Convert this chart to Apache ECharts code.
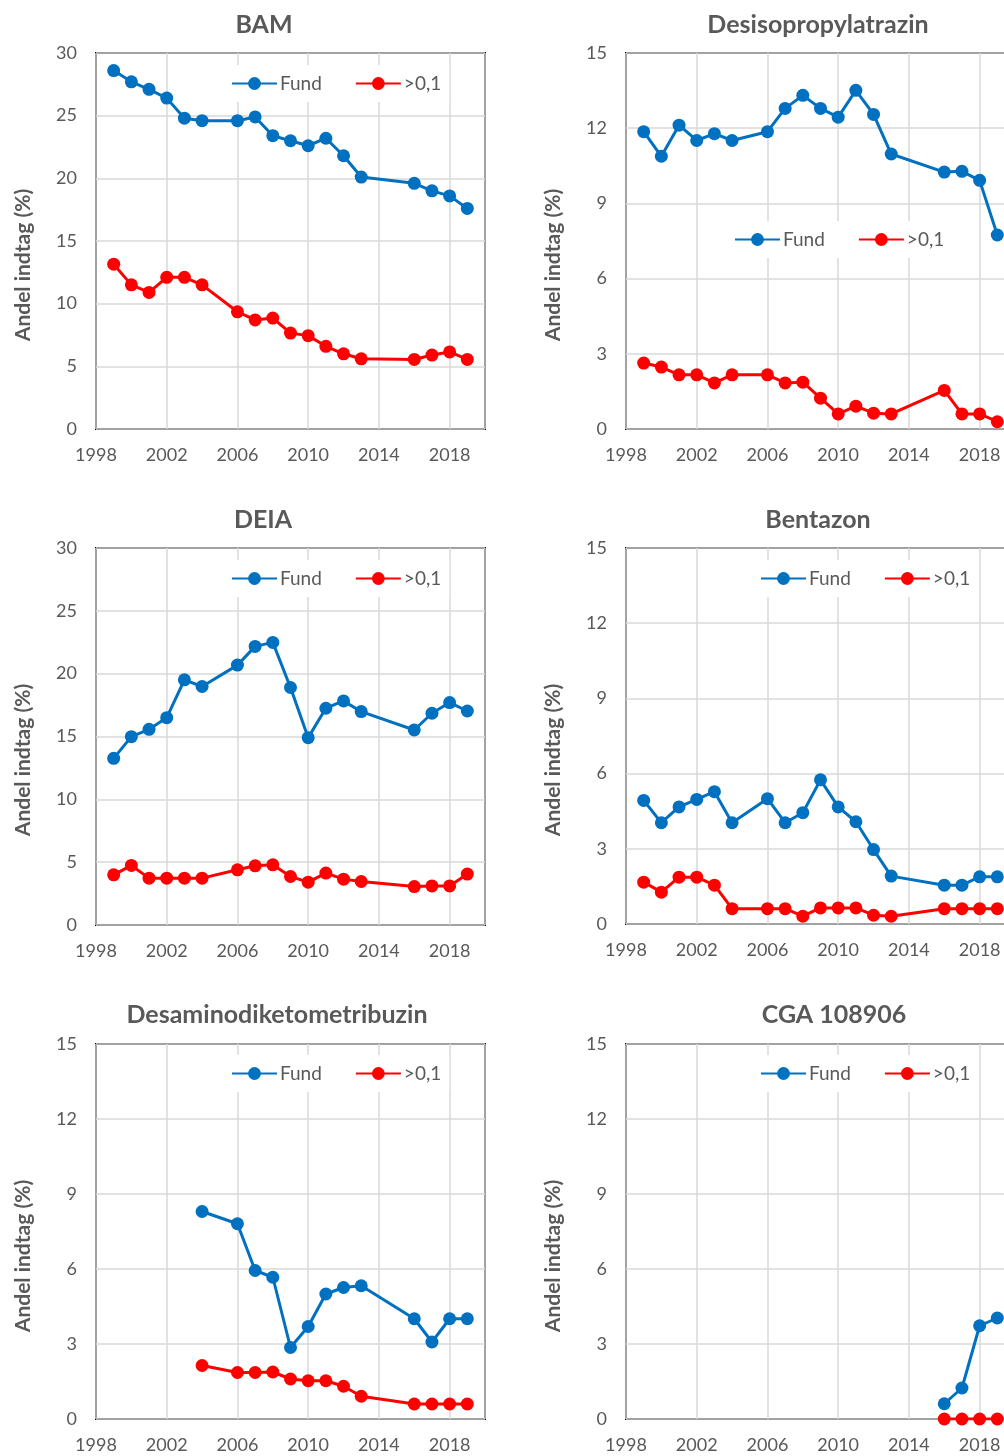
<!DOCTYPE html>
<html><head><meta charset="utf-8">
<script src="https://cdn.jsdelivr.net/npm/echarts@6/dist/echarts.min.js"></script>
<style>html,body{margin:0;padding:0;overflow:hidden;background:#fff}#c{width:1040px;height:1456px}</style>
</head><body><div id="c"></div>
<script>
// ---------- DATA ----------
const xTickStart = 1998;           // first x tick label
const xTickEnd = 2020;             // x axis end
const xTickStep = 4;
const seriesNames = ['Fund', '>0,1'];
const yTitle = 'Andel indtag (%)';
const titles = ['BAM', 'Desisopropylatrazin', 'DEIA', 'Bentazon', 'Desaminodiketometribuzin', 'CGA 108906'];

const yearsAll = [1999, 2000, 2001, 2002, 2003, 2004, 2006, 2007, 2008, 2009, 2010, 2011, 2012, 2013, 2016, 2017, 2018, 2019];
const yearsDesamino = [2004, 2006, 2007, 2008, 2009, 2010, 2011, 2012, 2013, 2016, 2017, 2018, 2019];
const yearsCGA = [2016, 2017, 2018, 2019];

const bamFund = [28.6, 27.7, 27.1, 26.4, 24.8, 24.6, 24.6, 24.9, 23.4, 23.0, 22.6, 23.2, 21.8, 20.1, 19.6, 19.0, 18.6, 17.6];
const bamOver = [13.15, 11.5, 10.9, 12.1, 12.1, 11.5, 9.35, 8.7, 8.85, 7.65, 7.45, 6.6, 6.0, 5.6, 5.55, 5.9, 6.15, 5.55];

const desisoFund = [11.86, 10.88, 12.12, 11.51, 11.78, 11.51, 11.86, 12.79, 13.31, 12.79, 12.44, 13.51, 12.55, 10.97, 10.25, 10.28, 9.92, 7.74];
const desisoOver = [2.63, 2.47, 2.16, 2.16, 1.84, 2.16, 2.16, 1.84, 1.87, 1.23, 0.6, 0.91, 0.63, 0.6, 1.54, 0.6, 0.6, 0.29];

const deiaFund = [13.26, 14.99, 15.57, 16.5, 19.51, 18.98, 20.68, 22.17, 22.49, 18.9, 14.91, 17.25, 17.83, 16.98, 15.52, 16.85, 17.7, 17.03];
const deiaOver = [3.99, 4.74, 3.73, 3.73, 3.73, 3.73, 4.39, 4.71, 4.79, 3.86, 3.41, 4.13, 3.65, 3.46, 3.06, 3.11, 3.11, 4.05];

const bentaFund = [4.93, 4.04, 4.67, 4.97, 5.28, 4.04, 5.0, 4.04, 4.44, 5.75, 4.67, 4.08, 2.97, 1.91, 1.55, 1.55, 1.88, 1.88];
const bentaOver = [1.67, 1.27, 1.87, 1.87, 1.55, 0.61, 0.61, 0.61, 0.31, 0.64, 0.64, 0.64, 0.35, 0.31, 0.61, 0.61, 0.61, 0.61];

const desamFund = [8.3, 7.81, 5.94, 5.67, 2.86, 3.7, 5.0, 5.26, 5.33, 4.01, 3.08, 4.01, 4.01];
const desamOver = [2.14, 1.86, 1.86, 1.88, 1.6, 1.53, 1.53, 1.31, 0.91, 0.6, 0.6, 0.6, 0.6];

const cgaFund = [0.61, 1.24, 3.73, 4.04];
const cgaOver = [0, 0, 0, 0];

const yMaxes = [30, 15, 30, 15, 15, 15];
const yIntervals = [5, 3, 5, 3, 3, 3];

const panelData = [
  [yearsAll, bamFund, bamOver],
  [yearsAll, desisoFund, desisoOver],
  [yearsAll, deiaFund, deiaOver],
  [yearsAll, bentaFund, bentaOver],
  [yearsDesamino, desamFund, desamOver],
  [yearsCGA, cgaFund, cgaOver]
];

// ---------- LAYOUT / STYLE ----------
const grids = [
  {left: 96, top: 53, width: 389, height: 376},
  {left: 626, top: 53, width: 389, height: 376},
  {left: 96, top: 548, width: 389, height: 377},
  {left: 626, top: 548, width: 389, height: 376},
  {left: 96, top: 1044, width: 389, height: 375},
  {left: 626, top: 1044, width: 389, height: 375}
];
const titlePos = [[264, 25], [818, 25], [263, 520], [818, 520], [277, 1015], [834, 1015]];
const yTitlePos = [[23, 265], [553, 265], [23, 760], [553, 760], [23, 1256], [553, 1256]];
const legendPos = [[223, 65], [726, 221], [223, 560], [752, 560], [223, 1055], [752, 1055]];

const FONT = 'Lato, "Open Sans", sans-serif';
const TXT = '#595959';
const colors = ['#0070C0', '#FF0000'];

const option = {
  animation: false,
  backgroundColor: '#fff',
  grid: [], xAxis: [], yAxis: [], series: [], legend: [], graphic: []
};

panelData.forEach((pd, i) => {
  const [years, fund, over] = pd;
  option.grid.push(Object.assign({show: true, borderColor: '#000', borderWidth: 2, backgroundColor: 'transparent', containLabel: false}, grids[i]));
  option.xAxis.push({
    type: 'value', gridIndex: i, min: 0, max: xTickEnd - xTickStart, interval: xTickStep,
    axisLine: {show: false}, axisTick: {show: false},
    axisLabel: {color: TXT, fontSize: 18, fontFamily: FONT, margin: 17, showMaxLabel: false,
      formatter: v => String(v + xTickStart)},
    splitLine: {show: true, lineStyle: {color: '#d9d9d9', width: 1.5}}
  });
  option.yAxis.push({
    type: 'value', gridIndex: i, min: 0, max: yMaxes[i], interval: yIntervals[i],
    axisLine: {show: false}, axisTick: {show: false},
    axisLabel: {color: TXT, fontSize: 18, fontFamily: FONT, margin: 19},
    splitLine: {show: true, lineStyle: {color: '#d9d9d9', width: 1.5}}
  });
  [fund, over].forEach((vals, k) => {
    option.series.push({
      name: seriesNames[k], type: 'line', xAxisIndex: i, yAxisIndex: i,
      data: years.map((y, j) => [y - xTickStart, vals[j]]),
      symbol: 'circle', symbolSize: 13, showSymbol: true,
      itemStyle: {color: colors[k]},
      lineStyle: {color: colors[k], width: 3},
      z: 3 + k
    });
  });
  option.legend.push({
    data: seriesNames, left: legendPos[i][0], top: legendPos[i][1],
    orient: 'horizontal', itemWidth: 45, itemHeight: 16, itemGap: 33,
    backgroundColor: '#fff', padding: [9, 8],
    textStyle: {color: TXT, fontSize: 19, fontFamily: FONT, padding: [0, 0, 0, -2]},
    selectedMode: false
  });
  option.graphic.push({
    type: 'text', x: titlePos[i][0], y: titlePos[i][1], z: 10,
    style: {text: titles[i], fill: TXT, font: 'bold 25px ' + FONT, textAlign: 'center', textVerticalAlign: 'middle'}
  });
  option.graphic.push({
    type: 'text', x: yTitlePos[i][0], y: yTitlePos[i][1], rotation: Math.PI / 2, z: 10,
    style: {text: yTitle, fill: TXT, font: 'bold 21px ' + FONT, textAlign: 'center', textVerticalAlign: 'middle'}
  });
});

const chart = echarts.init(document.getElementById('c'), null, {renderer: 'canvas'});
chart.setOption(option);
</script>
</body></html>
